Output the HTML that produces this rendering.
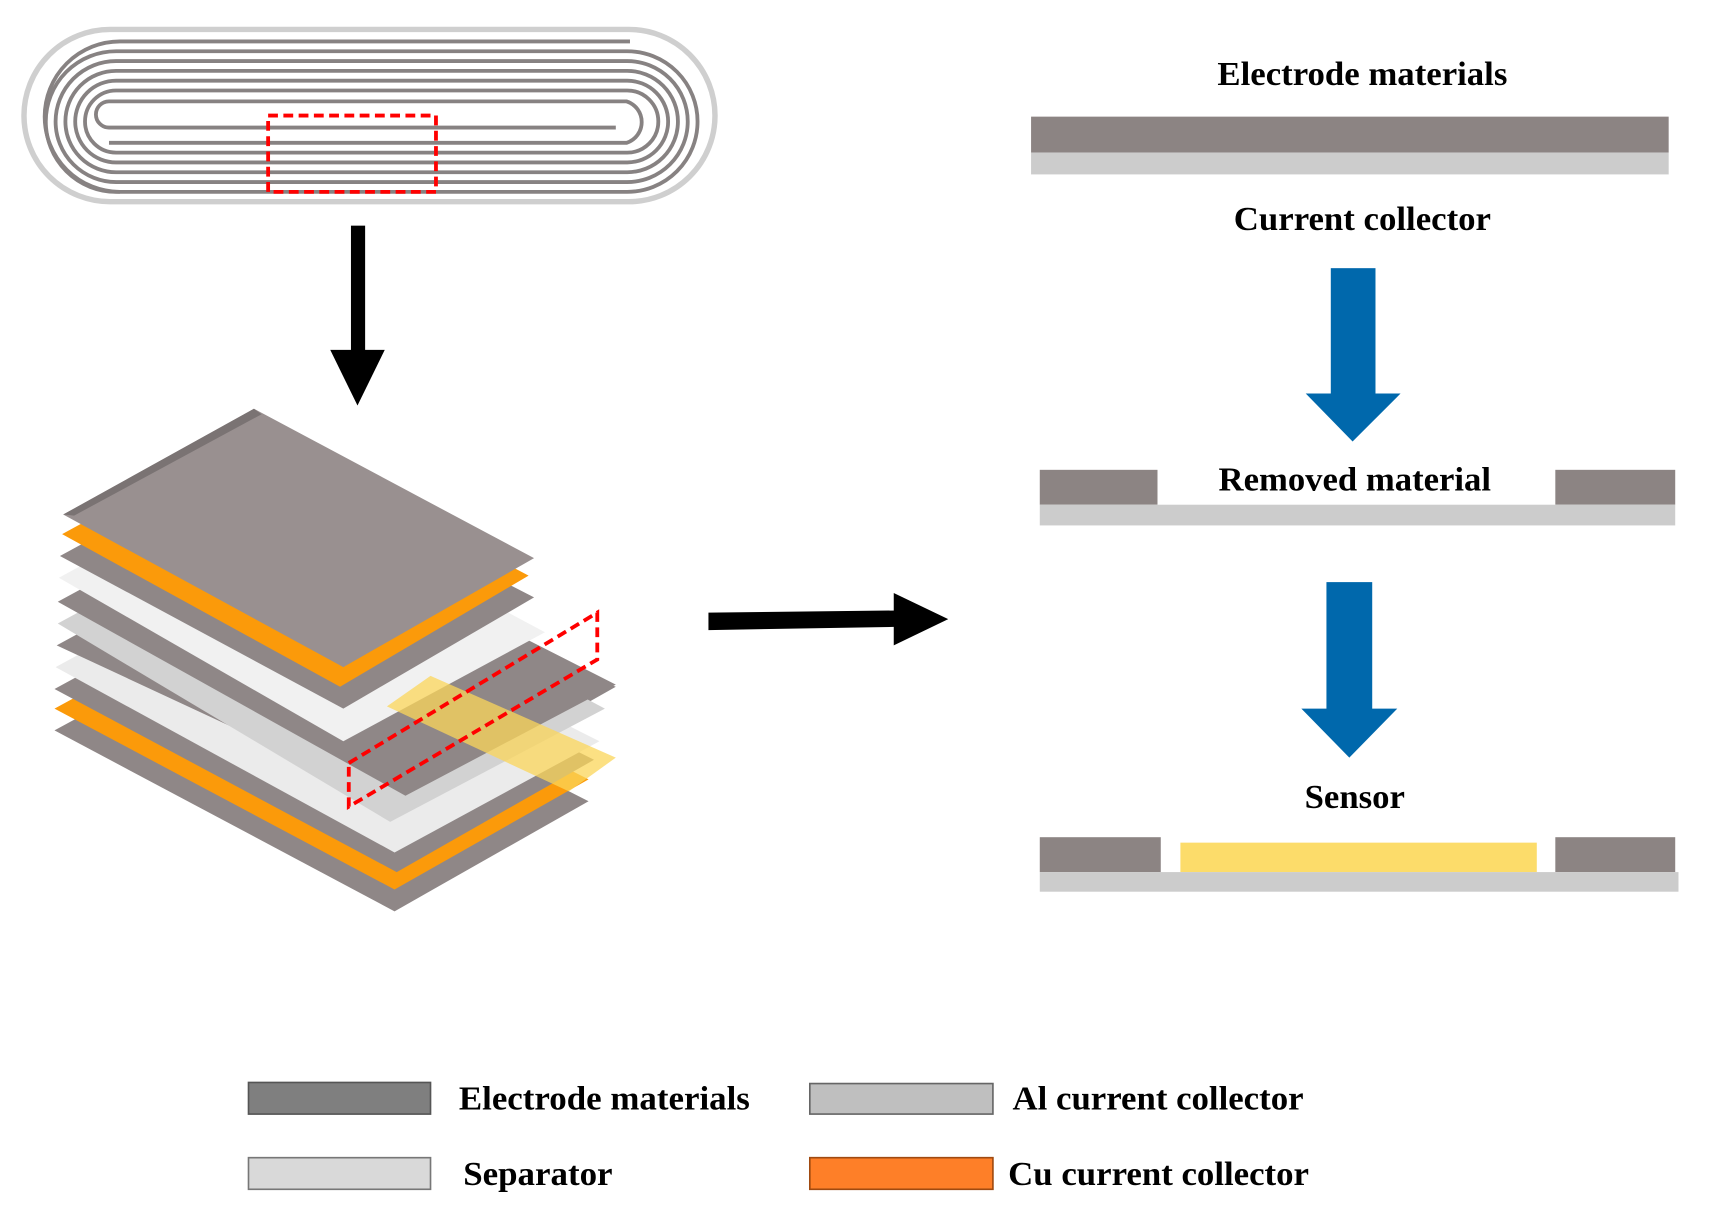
<!DOCTYPE html>
<html><head><meta charset="utf-8"><style>
html,body{margin:0;padding:0;background:#fff;}
svg{display:block;}
text{font-family:"Liberation Serif",serif;font-weight:bold;fill:#000;}
</style></head><body>
<svg width="1709" height="1222" viewBox="0 0 1568 1121" preserveAspectRatio="none" xmlns="http://www.w3.org/2000/svg">
<rect width="1568" height="1121" fill="#fff"/>
<!-- jelly roll -->
<rect x="22" y="27" width="634" height="158" rx="79" fill="none" stroke="#cfcfcf" stroke-width="5"/>
<g fill="none" stroke="#878282" stroke-width="3.5">
<path d="M578 38 H110 A69 69 0 0 0 110 176"/>
<rect x="42" y="47" width="598" height="129" rx="64.5"/>
<rect x="51" y="56" width="580" height="111" rx="55.5"/>
<rect x="60" y="65" width="562" height="93" rx="46.5"/>
<rect x="69" y="74" width="544" height="75" rx="37.5"/>
<rect x="78" y="83" width="526" height="57" rx="28.5"/>
<path d="M565 117 H100 A12 12 0 0 1 100 93 H575 A20 20 0 0 1 575 131 H100"/>
</g>
<rect x="246" y="106" width="154" height="70" fill="none" stroke="#f00" stroke-width="3.5" stroke-dasharray="9,5"/>
<!-- down arrow -->
<rect x="322" y="207" width="13" height="118" fill="#000"/>
<polygon points="303,321 353,321 328,372" fill="#000"/>
<!-- stack -->
<g>
<polygon points="50,670 225,575 540,735 362,836" fill="#8f8787"/>
<polygon points="50,650 225,555 540,715 362,816" fill="#fb9a0a"/>
<polygon points="50,632 225,537 545,697 364,800" fill="#8f8787"/>
<polygon points="51,612 226,517 550,680 362,782" fill="#ebebeb"/>
<polygon points="52,592 227,497 565,630 370,740" fill="#8f8787"/>
<polygon points="53,572 228,477 555,650 358,754" fill="#d2d2d2"/>
<polygon points="53,552 228,457 565,628 372,730" fill="#8f8787"/>
<polygon points="54,530 229,435 500,580 315,680" fill="#f1f1f1"/>
<polygon points="55,510 230,415 490,548 315,650" fill="#8f8787"/>
<polygon points="57,490 231,395 485,528 312,630" fill="#fb9a0a"/>
<polygon points="58,472 233,375 490,512 315,612" fill="#999090"/>
<polygon points="58,472 233,375 240,380 68,473" fill="#7a7373"/>
<polygon points="355,648 395,620 565,695 522,726" fill="#fbd55a" opacity="0.75"/>
<polygon points="320,700 548,562 548,605 320,740" fill="none" stroke="#f00" stroke-width="3.5" stroke-dasharray="9,5"/>
</g>
<!-- right arrow -->
<polygon points="650,562 825,560 825,575 650,578" fill="#000"/>
<polygon points="820,544 870,568 820,592" fill="#000"/>
<!-- right panel -->
<text x="1117" y="78" font-size="31" textLength="266" lengthAdjust="spacingAndGlyphs">Electrode materials</text>
<rect x="946" y="107" width="585" height="33" fill="#8c8483"/>
<rect x="946" y="140" width="585" height="20" fill="#cccccc"/>
<text x="1132" y="211" font-size="31" textLength="236" lengthAdjust="spacingAndGlyphs">Current collector</text>
<rect x="1221" y="246" width="41" height="118" fill="#0068ac"/>
<polygon points="1198,361 1285,361 1241,405" fill="#0068ac"/>
<rect x="954" y="431" width="108" height="32" fill="#8c8483"/>
<rect x="1427" y="431" width="110" height="32" fill="#8c8483"/>
<rect x="954" y="463" width="583" height="19" fill="#cccccc"/>
<text x="1118" y="450" font-size="31" textLength="250" lengthAdjust="spacingAndGlyphs">Removed material</text>
<rect x="1217" y="534" width="42" height="118" fill="#0068ac"/>
<polygon points="1194,650 1282,650 1238,695" fill="#0068ac"/>
<text x="1197" y="741" font-size="31" textLength="92" lengthAdjust="spacingAndGlyphs">Sensor</text>
<rect x="954" y="768" width="111" height="32" fill="#8c8483"/>
<rect x="1427" y="768" width="110" height="32" fill="#8c8483"/>
<rect x="1083" y="773" width="327" height="27" fill="#fcdc6a"/>
<rect x="954" y="800" width="586" height="18" fill="#cccccc"/>
<!-- legend -->
<rect x="228" y="993" width="167" height="29" fill="#7f7f7f" stroke="#555" stroke-width="1.5"/>
<text x="421" y="1018" font-size="31" textLength="267" lengthAdjust="spacingAndGlyphs">Electrode materials</text>
<rect x="743" y="994" width="168" height="28" fill="#bfbfbf" stroke="#666" stroke-width="1.5"/>
<text x="929" y="1018" font-size="31" textLength="267" lengthAdjust="spacingAndGlyphs">Al current collector</text>
<rect x="228" y="1062" width="167" height="29" fill="#d9d9d9" stroke="#777" stroke-width="1.5"/>
<text x="425" y="1087" font-size="31" textLength="137" lengthAdjust="spacingAndGlyphs">Separator</text>
<rect x="743" y="1062" width="168" height="29" fill="#fe7f28" stroke="#a04a10" stroke-width="1.5"/>
<text x="925" y="1087" font-size="31" textLength="276" lengthAdjust="spacingAndGlyphs">Cu current collector</text>
</svg>
</body></html>
